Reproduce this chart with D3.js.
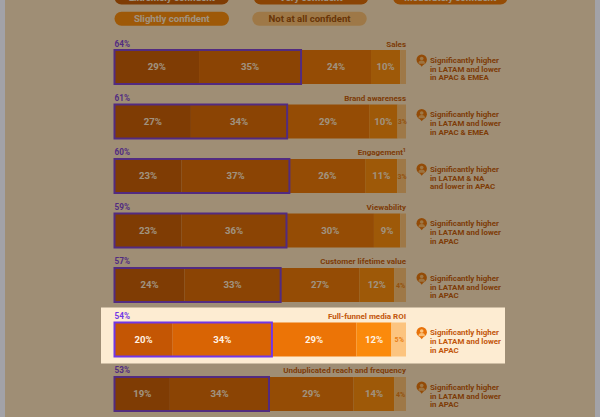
<!DOCTYPE html>
<html>
<head>
<meta charset="utf-8">
<script src="https://cdn.jsdelivr.net/npm/d3@7"></script>
<style>
  html,body{margin:0;padding:0;background:#9c8b6f;}
  svg{display:block;font-family:Roboto, "Noto Sans", sans-serif;}
</style>
</head>
<body>
<svg id="chart" width="600" height="417"></svg>
<script>
// ---------- data ----------
const categories = ["Sales","Brand awareness","Engagement","Viewability","Customer lifetime value","Full-funnel media ROI","Unduplicated reach and frequency"];
const levels = ["Extremely confident","Very confident","Moderately confident","Slightly confident","Not at all confident"];
const extremely  = [29, 27, 23, 23, 24, 20, 19];
const very       = [35, 34, 37, 36, 33, 34, 34];
const moderately = [24, 29, 26, 30, 27, 29, 29];
const slightly   = [10, 10, 11, 9, 12, 12, 14];
const notAtAll   = [2, 3, 3, 2, 4, 5, 4];
const topTwo     = [64, 61, 60, 59, 57, 54, 53];
const superscripts = ["", "", "1", "", "", "", ""];
const notes = [
  ["Significantly higher","in LATAM and lower","in APAC & EMEA"],
  ["Significantly higher","in LATAM and lower","in APAC & EMEA"],
  ["Significantly higher","in LATAM & NA","and lower in APAC"],
  ["Significantly higher","in LATAM and lower","in APAC"],
  ["Significantly higher","in LATAM and lower","in APAC"],
  ["Significantly higher","in LATAM and lower","in APAC"],
  ["Significantly higher","in LATAM and lower","in APAC"]
];
const highlighted = "Full-funnel media ROI";

// ---------- styles ----------
const colors = ["#c45604","#d96404","#ec7406","#fb8a0c","#fcc47f"];
const legendText = ["#fff3e4","#fff3e4","#fff3e4","#fff3e4","#9a4a0a"];
const purple = "#7137e6";
const brown = "#c2560a";

const svg = d3.select("#chart");
const W = 600, H = 417;

// page background (original colour before dimming)
svg.append("rect").attr("width",W).attr("height",H).attr("fill","#fdecd2");

const color = d3.scaleOrdinal().domain(levels).range(colors);
const series = [extremely, very, moderately, slightly, notAtAll];

const y = d3.scaleBand().domain(categories)
  .range([50, 50 + 6*54.5 + 34]).paddingInner(0.376).paddingOuter(0);
const barX0 = 114.5, barX1 = 406;

// ---------- legend ----------
const legendX = d3.scalePoint().domain([0,1,2]).range([114.5, 393]);
const legendRows = [[0,1,2],[3,4]];
const pillW = 114.5, pillH = 14;
const legendY = [-9.5, 11.8];
legendRows.forEach((row, r) => {
  row.forEach((li, c) => {
    const g = svg.append("g").attr("transform", `translate(${legendX(c) - (r===1 && c===1 ? 1.5 : 0)},${legendY[r]})`);
    g.append("rect").attr("width", pillW).attr("height", pillH).attr("rx", 7)
      .attr("fill", color(levels[li]));
    g.append("text").attr("x", pillW/2).attr("y", pillH/2 + 3.4)
      .attr("text-anchor","middle").attr("font-size",9.6).attr("font-weight",700)
      .attr("fill", legendText[li]).text(levels[li]);
  });
});

// ---------- rows ----------
categories.forEach((cat, i) => {
  const vals = series.map(s => s[i]);
  const total = d3.sum(vals);
  const x = d3.scaleLinear().domain([0, total]).range([barX0, barX1]);
  const top = y(cat), bh = y.bandwidth();
  const g = svg.append("g").attr("class","row");

  if (cat === highlighted) {
    g.append("rect").attr("x",101).attr("y",top-15).attr("width",404).attr("height",56)
      .attr("fill","#fdecd2");
  }

  const stacked = d3.cumsum(vals);
  const segs = vals.map((v, k) => ({v, k, x0: stacked[k]-v, x1: stacked[k]}));
  g.selectAll("rect.seg").data(segs).join("rect").attr("class","seg")
    .attr("x", d => x(d.x0)).attr("y", top)
    .attr("width", d => x(d.x1) - x(d.x0)).attr("height", bh)
    .attr("fill", d => color(levels[d.k]));

  g.selectAll("text.val").data(segs.filter(d => d.v >= 3)).join("text").attr("class","val")
    .attr("x", d => (x(d.x0) + x(d.x1))/2 + (d.k===4 ? 0.5 : 0))
    .attr("y", top + bh/2)
    .attr("dy", "0.36em")
    .attr("text-anchor","middle")
    .attr("font-size", d => d.k===4 ? 7 : 9.6)
    .attr("font-weight", 700)
    .attr("fill", d => d.k===4 ? "#e87e16" : "#fff3e4")
    .text(d => d.v + "%");

  // top-two box
  g.append("rect").attr("x", x(0)).attr("y", top)
    .attr("width", x(extremely[i] + very[i]) - x(0)).attr("height", bh)
    .attr("fill","none").attr("stroke", purple).attr("stroke-width", 2);

  g.append("text").attr("x", barX0).attr("y", top - 3.5)
    .attr("font-size", 8.2).attr("font-weight", 700).attr("fill", purple)
    .text(topTwo[i] + "%");

  const lab = g.append("text").attr("x", barX1).attr("y", top - 3.5)
    .attr("text-anchor","end").attr("font-size", 8).attr("font-weight", 700).attr("fill", brown)
    .text(cat);
  if (superscripts[i]) {
    lab.append("tspan").attr("font-size", 5.5).attr("dy", -3).text(superscripts[i]);
  }

  // icon
  const ic = g.append("g").attr("transform", `translate(421.7,${top + 9.7})`);
  ic.append("circle").attr("r", 5.2).attr("fill", "#e8720a");
  ic.append("circle").attr("cy", -1.2).attr("r", 1.8).attr("fill", "#fcc47f");
  ic.append("path").attr("d", d3.arc()({innerRadius:0, outerRadius:3.3, startAngle:-Math.PI/2, endAngle:Math.PI/2}))
    .attr("transform","translate(0,4)").attr("fill","#fcc47f").attr("opacity",0.9);
  ic.append("path").attr("d","M-2,4.5 L0,7 L2,4.5 Z").attr("fill","#e8720a");

  const t = g.append("text").attr("x", 430).attr("y", top + 13)
    .attr("font-size", 7.9).attr("font-weight", 700).attr("fill", brown);
  notes[i].forEach((line, li) => {
    t.append("tspan").attr("x", 430).attr("dy", li === 0 ? 0 : 8.7).text(line);
  });
});

// ---------- dim overlay with hole for highlighted row ----------
const ht = y(highlighted) - 15;
svg.append("path")
  .attr("d", `M0,0H${W}V${H}H0Z M101,${ht}V${ht+56}H505V${ht}Z`)
  .attr("fill-rule","evenodd")
  .attr("fill","rgba(45,28,5,0.45)");

// side chrome strips
svg.append("rect").attr("x",0).attr("y",0).attr("width",5).attr("height",H).attr("fill","#a2a2a8");
svg.append("rect").attr("x",595).attr("y",0).attr("width",5).attr("height",H).attr("fill","#a2a2a8");
</script>
</body>
</html>
